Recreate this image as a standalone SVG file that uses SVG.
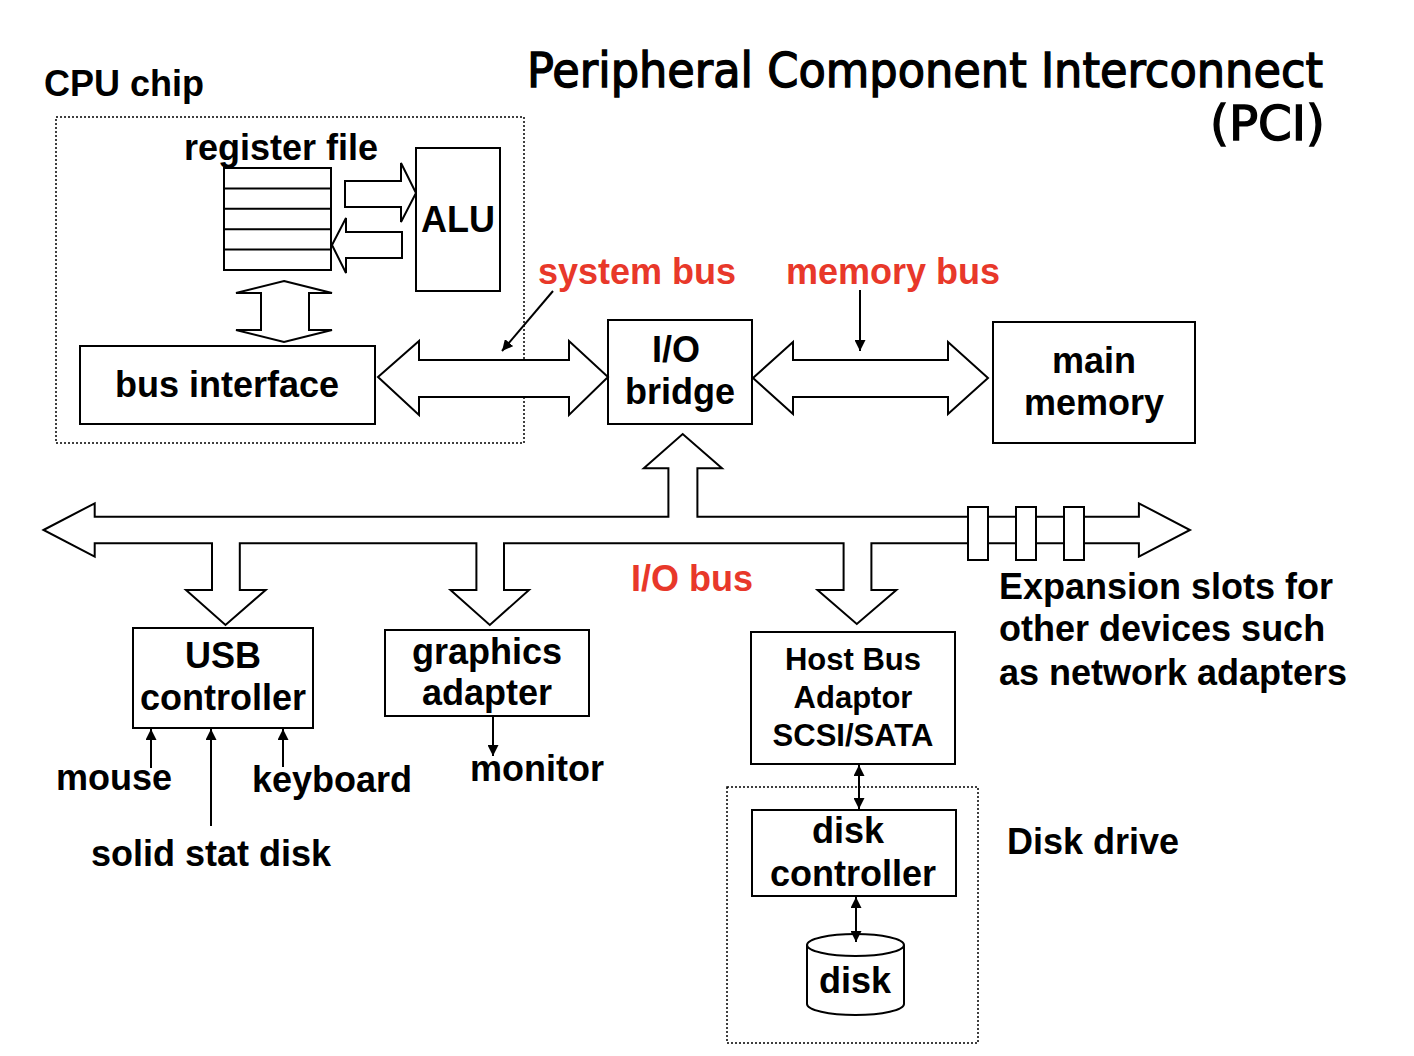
<svg xmlns="http://www.w3.org/2000/svg" width="1414" height="1056" viewBox="0 0 1414 1056">
<style>
  .box{fill:#fff;stroke:#000;stroke-width:2}
  .dot{fill:none;stroke:#000;stroke-width:1.5;stroke-dasharray:2 2}
  .fat{fill:#fff;stroke:#000;stroke-width:2;stroke-linejoin:miter}
  .ln{fill:none;stroke:#000;stroke-width:2}
  text{font-family:"Liberation Sans",Arial,sans-serif;font-weight:bold;fill:#000}
  .t36{font-size:36px}
  .t31{font-size:31px}
  .red{fill:#e8382a}
  .title{font-family:"DejaVu Sans",sans-serif;font-weight:normal;font-size:48px;stroke:#000;stroke-width:1.4}
  .mid{text-anchor:middle}
</style>
<defs>
  <marker id="ah" viewBox="0 0 10 10" refX="10" refY="5" markerWidth="5.5" markerHeight="5.5" orient="auto-start-reverse" markerUnits="strokeWidth">
    <path d="M0,0 L10,5 L0,10 z" fill="#000"/>
  </marker>
</defs>
<rect width="1414" height="1056" fill="#fff"/>

<g id="title">
  <text class="title" x="527" y="87" textLength="796" lengthAdjust="spacingAndGlyphs">Peripheral Component Interconnect</text>
  <text class="title" x="1210" y="140" textLength="115" lengthAdjust="spacingAndGlyphs">(PCI)</text>
</g>

<g id="cpu-chip">
  <rect class="dot" x="56" y="117" width="468" height="326"/>
  <text class="t36" x="44" y="96">CPU chip</text>
</g>

<g id="register-file">
  <text class="t36" x="184" y="160">register file</text>
  <rect class="box" x="224" y="168" width="107" height="102"/>
  <path class="ln" d="M224,188.4H331M224,208.8H331M224,229.2H331M224,249.6H331"/>
</g>

<g id="alu">
  <rect class="box" x="416" y="148" width="84" height="143"/>
  <text class="t36 mid" x="458" y="232">ALU</text>
</g>

<g id="bus-interface">
  <rect class="box" x="80" y="346" width="295" height="78"/>
  <text class="t36 mid" x="227" y="397">bus interface</text>
</g>

<g id="io-bridge">
  <rect class="box" x="608" y="320" width="144" height="104"/>
  <text class="t36 mid" x="676" y="362">I/O</text>
  <text class="t36 mid" x="680" y="404">bridge</text>
</g>

<g id="main-memory">
  <rect class="box" x="993" y="322" width="202" height="121"/>
  <text class="t36 mid" x="1094" y="373">main</text>
  <text class="t36 mid" x="1094" y="415">memory</text>
</g>

<g id="usb-controller">
  <rect class="box" x="133" y="628" width="180" height="100"/>
  <text class="t36 mid" x="223" y="668">USB</text>
  <text class="t36 mid" x="223" y="710">controller</text>
</g>

<g id="graphics-adapter">
  <rect class="box" x="385" y="630" width="204" height="86"/>
  <text class="t36 mid" x="487" y="664">graphics</text>
  <text class="t36 mid" x="487" y="705">adapter</text>
</g>

<g id="host-bus-adaptor">
  <rect class="box" x="751" y="632" width="204" height="132"/>
  <text class="t31 mid" x="853" y="670">Host Bus</text>
  <text class="t31 mid" x="853" y="708">Adaptor</text>
  <text class="t31 mid" x="853" y="746">SCSI/SATA</text>
</g>

<g id="disk-drive">
  <rect class="dot" x="727" y="787" width="251" height="256"/>
  <text class="t36" x="1007" y="854">Disk drive</text>
</g>

<g id="disk-controller">
  <rect class="box" x="752" y="810" width="204" height="86"/>
  <text class="t36 mid" x="848" y="843">disk</text>
  <text class="t36 mid" x="853" y="886">controller</text>
</g>

<g id="disk">
  <path class="box" d="M807,945 V1004 A48.5,11 0 0 0 904,1004 V945"/>
  <ellipse class="box" cx="855.5" cy="945" rx="48.5" ry="11"/>
  <text class="t36 mid" x="855" y="993">disk</text>
</g>

<g id="labels">
  <text class="t36 red" x="538" y="284">system bus</text>
  <text class="t36 red" x="786" y="284">memory bus</text>
  <text class="t36 red" x="631" y="591">I/O bus</text>
  <text class="t36" x="999" y="599">Expansion slots for</text>
  <text class="t36" x="999" y="641">other devices such</text>
  <text class="t36" x="999" y="685">as network adapters</text>
  <text class="t36" x="56" y="790">mouse</text>
  <text class="t36" x="252" y="792">keyboard</text>
  <text class="t36" x="91" y="866">solid stat disk</text>
  <text class="t36" x="470" y="781">monitor</text>
</g>

<g id="connectors">
  <!-- register file -> ALU -->
  <polygon class="fat" points="345,181 401,181 401,163 416,193 401,222 401,207 345,207"/>
  <!-- ALU -> register file -->
  <polygon class="fat" points="402,232 346,232 346,218 332,245 346,273 346,258 402,258"/>
  <!-- register file <-> bus interface -->
  <polygon class="fat" points="284,281 332,293 309,293 309,330 332,330 284,342 236,330 261,330 261,293 236,293"/>
  <!-- system bus -->
  <polygon class="fat" points="378,377 419,341 419,360 569,360 569,341 608,377 569,415 569,397 419,397 419,415"/>
  <!-- memory bus -->
  <polygon class="fat" points="753,378 793,342 793,360 948,360 948,342 988,378 948,414 948,397 793,397 793,414"/>
  <!-- I/O bus -->
  <polygon class="fat" points="43.5,530 94.7,503.3 94.7,516.7 668.4,516.7 668.4,468.3 643.8,468.3 682.7,434 722,468.3 697.4,468.3 697.4,516.7 1138.9,516.7 1138.9,503.3 1190,530 1138.9,556.7 1138.9,543.3 871.4,543.3 871.4,590 896.4,590 856.8,624 817.5,590 843.6,590 843.6,543.3 504,543.3 504,590 529,590 489.8,625 450.5,590 476.4,590 476.4,543.3 239.8,543.3 239.8,590 265.7,590 225.5,625 186,590 212,590 212,543.3 94.7,543.3 94.7,556.7"/>
  <!-- expansion slots -->
  <rect class="box" x="968" y="507" width="20" height="53"/>
  <rect class="box" x="1016" y="507" width="20" height="53"/>
  <rect class="box" x="1064" y="507" width="20" height="53"/>
  <!-- label pointers -->
  <line class="ln" x1="553" y1="291" x2="502" y2="351" marker-end="url(#ah)"/>
  <line class="ln" x1="860" y1="290" x2="860" y2="351" marker-end="url(#ah)"/>
  <!-- peripherals -->
  <line class="ln" x1="151" y1="768" x2="151" y2="729" marker-end="url(#ah)"/>
  <line class="ln" x1="211" y1="826" x2="211" y2="729" marker-end="url(#ah)"/>
  <line class="ln" x1="283" y1="767" x2="283" y2="729" marker-end="url(#ah)"/>
  <line class="ln" x1="493" y1="717" x2="493" y2="756" marker-end="url(#ah)"/>
  <line class="ln" x1="859" y1="765" x2="859" y2="809" marker-start="url(#ah)" marker-end="url(#ah)"/>
  <line class="ln" x1="856" y1="897" x2="856" y2="942" marker-start="url(#ah)" marker-end="url(#ah)"/>
</g>
</svg>
